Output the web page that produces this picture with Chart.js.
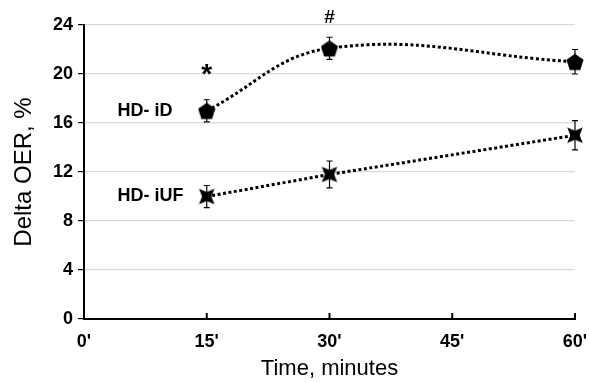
<!DOCTYPE html>
<html>
<head>
<meta charset="utf-8">
<script src="https://cdn.jsdelivr.net/npm/chart.js@4"></script>
<style>
  html, body { margin: 0; padding: 0; background: #fff; }
  #wrap { width: 589px; height: 382px; }
</style>
</head>
<body>
<div id="wrap"><canvas id="c"></canvas></div>
<script>
// data
const times = [15, 30, 60];
const iD = [17, 22.1, 21];
const iDErr = [0.9, 0.9, 1.0];
const iUF = [10, 11.8, 15];
const iUFErr = [0.9, 1.1, 1.2];
const yTicks = [0, 4, 8, 12, 16, 20, 24];
const xTicks = [0, 15, 30, 45, 60];

const FONT = '"Liberation Sans", Arial, sans-serif';

function pentagon(size) {
  const cv = document.createElement('canvas');
  cv.width = size; cv.height = size;
  const g = cv.getContext('2d');
  const r = size / 2;
  g.beginPath();
  for (let i = 0; i < 5; i++) {
    const a = -Math.PI / 2 + i * 2 * Math.PI / 5;
    const px = r + r * Math.cos(a), py = r * 1.1 + r * Math.sin(a);
    i ? g.lineTo(px, py) : g.moveTo(px, py);
  }
  g.closePath();
  g.fillStyle = '#000';
  g.fill();
  return cv;
}

// 4-point star, tips on the diagonals, concave sides
function star4(size) {
  const cv = document.createElement('canvas');
  cv.width = size; cv.height = size;
  const g = cv.getContext('2d');
  const c = size / 2, r = size / 2;
  g.beginPath();
  for (let i = 0; i < 8; i++) {
    const a = -3 * Math.PI / 4 + i * Math.PI / 4;
    const rr = i % 2 ? r * 0.42 : r;
    const px = c + rr * Math.cos(a), py = c + rr * Math.sin(a);
    i ? g.lineTo(px, py) : g.moveTo(px, py);
  }
  g.closePath();
  g.fillStyle = '#000';
  g.fill();
  return cv;
}

const errorBars = {
  id: 'errorBars',
  afterDatasetsDraw(chart) {
    const { ctx, scales: { x, y } } = chart;
    const sets = [[iD, iDErr], [iUF, iUFErr]];
    ctx.save();
    ctx.strokeStyle = '#000';
    ctx.lineWidth = 1.2;
    sets.forEach(([vals, errs]) => {
      vals.forEach((v, i) => {
        const px = x.getPixelForValue(times[i]);
        const top = y.getPixelForValue(v + errs[i]);
        const bot = y.getPixelForValue(v - errs[i]);
        ctx.beginPath();
        ctx.moveTo(px, top); ctx.lineTo(px, bot);
        ctx.moveTo(px - 3, top); ctx.lineTo(px + 3, top);
        ctx.moveTo(px - 3, bot); ctx.lineTo(px + 3, bot);
        ctx.stroke();
      });
    });
    ctx.restore();
  }
};

const extras = {
  id: 'extras',
  afterDraw(chart) {
    const { ctx, scales: { x, y } } = chart;
    ctx.save();
    // inward ticks on the x axis
    ctx.strokeStyle = '#000';
    ctx.lineWidth = 2;
    xTicks.slice(1).forEach(t => {
      const px = x.getPixelForValue(t);
      ctx.beginPath();
      ctx.moveTo(px, y.bottom);
      ctx.lineTo(px, y.bottom - 6);
      ctx.stroke();
    });
    ctx.fillStyle = '#000';
    ctx.textBaseline = 'middle';
    ctx.font = 'bold 28px ' + FONT;
    ctx.textAlign = 'center';
    ctx.fillText('*', x.getPixelForValue(15), y.getPixelForValue(19.9));
    ctx.font = 'bold 19px ' + FONT;
    ctx.fillText('#', x.getPixelForValue(30), y.getPixelForValue(24.6));
    ctx.font = 'bold 18px ' + FONT;
    ctx.textAlign = 'left';
    ctx.fillText('HD- iD', x.getPixelForValue(4.1), y.getPixelForValue(17));
    ctx.fillText('HD- iUF', x.getPixelForValue(4.1), y.getPixelForValue(10));
    ctx.restore();
  }
};

new Chart(document.getElementById('c'), {
  type: 'line',
  data: {
    datasets: [
      {
        label: 'HD- iD',
        data: times.map((t, i) => ({ x: t, y: iD[i] })),
        borderColor: '#000',
        borderWidth: 3,
        borderDash: [3, 2.5],
        tension: 0.4,
        pointStyle: pentagon(18),
        pointRadius: 9,
        fill: false,
        clip: false,
      },
      {
        label: 'HD- iUF',
        data: times.map((t, i) => ({ x: t, y: iUF[i] })),
        borderColor: '#000',
        borderWidth: 3,
        borderDash: [3, 2.5],
        tension: 0,
        pointStyle: star4(22),
        pointRadius: 11,
        fill: false,
        clip: false,
      },
    ],
  },
  options: {
    responsive: true,
    maintainAspectRatio: false,
    animation: false,
    layout: { padding: { top: 25, right: 9, left: 0, bottom: 0 } },
    plugins: { legend: { display: false }, tooltip: { enabled: false } },
    scales: {
      x: {
        type: 'linear',
        min: 0,
        max: 60,
        afterBuildTicks: s => { s.ticks = xTicks.map(v => ({ value: v })); },
        afterFit: s => { s.height = 63; s.paddingRight = 0; s.paddingLeft = 0; },
        grid: { drawOnChartArea: false, drawTicks: false },
        border: { color: '#000', width: 2 },
        ticks: {
          color: '#000',
          padding: 12,
          maxRotation: 0,
          font: { family: FONT, size: 18, weight: 'bold' },
          callback: v => v + "'",
        },
        title: {
          display: true,
          text: 'Time, minutes',
          color: '#000',
          font: { family: FONT, size: 22 },
          padding: { top: 0, bottom: 0 },
        },
      },
      y: {
        min: 0,
        max: 24,
        afterBuildTicks: s => { s.ticks = yTicks.map(v => ({ value: v })); },
        afterFit: s => { s.width = 84; },
        grid: { color: '#d9d9d9', lineWidth: 1.2, tickColor: '#000', tickLength: 6 },
        border: { color: '#000', width: 2 },
        ticks: {
          color: '#000',
          padding: 5,
          font: { family: FONT, size: 18, weight: 'bold' },
        },
        title: {
          display: true,
          text: 'Delta OER, %',
          color: '#000',
          font: { family: FONT, size: 24 },
          padding: { top: 10, bottom: 0 },
        },
      },
    },
  },
  plugins: [errorBars, extras],
});
</script>
</body>
</html>
